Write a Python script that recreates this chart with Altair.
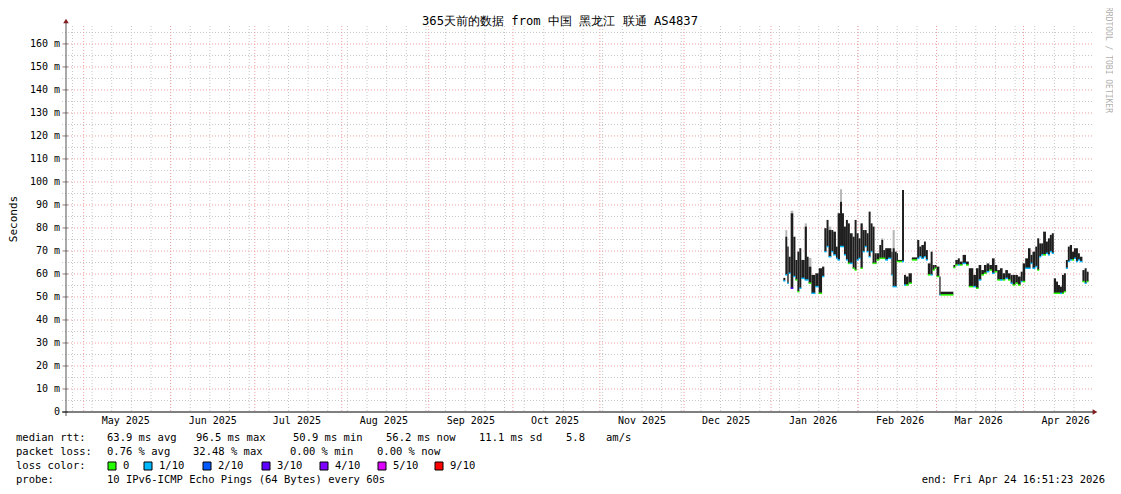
import altair as alt
import pandas as pd

MONO = "DejaVu Sans Mono"
MS_DAY = 86400000

# ---------------- data (days since 2026-01-01 UTC, values in ms) ----------------
seg_start = [4.4, 5.1, 5.8, 6.3, 7.0, 7.95, 8.7, 9.4, 10.1, 10.8,
             12.0, 12.8, 13.4, 14.4, 15.8, 17.0, 18.2, 19.0, 19.8, 20.5,
             21.5, 22.2, 23.15, 23.75, 24.6, 25.3, 26.0, 26.7, 27.4, 28.1,
             29.1, 29.8, 30.5, 31.2, 31.9, 32.7, 33.4, 34.1, 34.8, 35.5,
             36.2, 36.9, 37.6, 38.6, 39.3, 40.0, 40.7, 41.7, 42.9, 43.35,
             44.1, 44.8, 45.25, 46.7, 47.4, 48.1, 49.05, 50.2, 52.1, 52.85,
             53.6, 54.5, 55.2, 55.9, 56.9, 57.6, 58.3, 59.0, 60.0, 60.45,
             65.0, 65.7, 66.6, 67.3, 68.3, 69.5, 70.5, 72.1, 73.05, 74.0,
             74.95, 75.9, 76.85, 77.8, 78.75, 79.7, 80.65, 81.6, 82.55, 83.5,
             84.45, 85.4, 86.1, 87.1, 88.0, 89.0, 89.7, 90.6, 91.6, 92.5,
             93.2, 94.2, 94.9, 95.6, 96.3, 97.0, 98.0, 98.7, 99.4, 100.1,
             100.8, 101.6, 102.3, 103.0, 103.7, 104.4, 105.1, 105.8, 106.5, 107.3,
             108.0, 108.7, 109.4, 110.1, 111.0, 111.8, 112.5]
last_end = 113.2

rtt_hi = [58.3, 76.2, 71.9, 67.5, 86.4, 76.2, 66.1, 69.7, 71.2, 66.1,
          80.6, 67.5, 63.2, 59.6, 60.3, 62.5, 63.2, 79.9, 83.5, 79.1,
          79.1, 78.4, 71.9, 86.4, 91.4, 86.4, 80.6, 83.5, 82.0, 77.7,
          76.2, 83.5, 77.7, 75.5, 82.0, 79.1, 79.1, 77.7, 87.1, 82.0,
          80.6, 69.0, 69.0, 72.6, 74.8, 70.4, 71.2, 71.2, 69.7, 71.2,
          69.7, 69.0, 66.1, 96.5, 59.6, 58.9, 60.3, 67.2, 74.8, 71.9,
          72.6, 74.1, 70.4, 64.6, 69.7, 63.9, 63.9, 63.2, 58.9, 52.3,
          63.9, 66.1, 66.8, 65.4, 68.3, 65.4, 62.5, 59.6, 62.5, 63.9,
          61.7, 63.9, 64.6, 63.9, 66.8, 63.9, 61.7, 62.5, 60.3, 61.7,
          60.3, 59.6, 59.6, 59.6, 58.9, 61.0, 64.6, 66.8, 71.2, 68.3,
          69.7, 71.9, 75.5, 73.3, 73.3, 78.4, 74.1, 75.5, 77.0, 77.7,
          58.1, 56.7, 55.2, 54.5, 59.6, 60.3, 66.1, 71.9, 72.6, 69.7,
          71.2, 71.2, 69.0, 67.5, 61.7, 62.5, 61.0]

rtt_lo = [57.0, 59.6, 56.0, 60.3, 53.8, 58.9, 57.4, 52.3, 53.8, 58.1,
          57.4, 57.4, 56.0, 51.6, 54.5, 51.6, 58.9, 69.7, 71.9, 67.5,
          69.7, 68.3, 66.8, 66.1, 71.9, 71.9, 68.3, 66.1, 64.6, 64.6,
          62.5, 61.7, 66.1, 66.8, 62.5, 69.7, 71.9, 69.7, 67.5, 69.7,
          64.6, 64.6, 66.1, 66.8, 66.8, 66.8, 66.1, 66.8, 59.6, 54.5,
          54.5, 65.4, 65.4, 65.4, 55.2, 55.2, 56.0, 66.1, 66.8, 67.5,
          66.8, 67.5, 66.1, 59.6, 59.6, 61.7, 62.5, 58.9, 50.9, 50.9,
          62.8, 63.9, 63.9, 63.9, 64.6, 63.9, 54.5, 54.5, 53.8, 57.4,
          59.6, 60.3, 61.0, 61.7, 60.3, 61.0, 57.4, 57.4, 57.4, 58.1,
          57.4, 56.0, 55.2, 56.0, 55.2, 56.7, 56.7, 62.5, 62.5, 64.6,
          62.5, 63.2, 61.7, 67.5, 68.3, 68.3, 69.0, 68.3, 69.7, 69.0,
          51.6, 51.6, 51.6, 51.6, 51.6, 52.3, 62.5, 65.4, 66.1, 66.1,
          66.8, 65.4, 66.1, 65.4, 56.7, 56.0, 56.7]

loss_level = [1, 1, 1, 1, 3, 1, 0, 0, 1, 1,
              1, 1, 0, 1, 1, 0, 1, 1, 1, 1,
              1, 1, 1, 1, 1, 1, 1, 1, 0, 1,
              0, 0, 1, 1, 0, 1, 1, 1, 1, 1,
              0, 0, 0, 0, 0, 0, 1, 1, 1, 1,
              1, 0, 0, 1, 1, 0, 0, 0, 1, 1,
              1, 1, 1, 0, 1, 0, 0, 0, 1, 0,
              0, 0, 1, 0, 1, 0, 0, 1, 0, 1,
              0, 0, 1, 0, 1, 0, 0, 1, 0, 1,
              0, 1, 0, 0, 0, 1, 0, 1, 1, 1,
              1, 1, 0, 1, 1, 0, 1, 1, 1, 1,
              0, 0, 0, 1, 0, 0, 1, 1, 1, 0,
              1, 1, 1, 1, 0, 1, 0]

# light-grey smoke caps above the dark band (start day, top value)
smoke_day = [5.1, 7.0, 12.0, 13.4, 20.5, 24.6, 39.3, 43.35]
smoke_top = [79.1, 87.5, 82.0, 67.0, 80.6, 96.8, 75.5, 79.1]

loss_names = ["0", "1/10", "2/10", "3/10", "4/10", "5/10", "9/10"]
loss_levels = [0, 1, 2, 3, 4, 5, 9]
loss_colors = ["#26ff00", "#00b8ff", "#0059ff", "#5e00ff", "#7e00ff", "#dd00ff", "#ff0000"]

month_labels_from = "2025-05-01"
month_labels_to = "2026-04-01"
y_ticks = list(range(0, 170, 10))

title_text = "365天前的数据 from 中国 黑龙江 联通 AS4837"
legend_rtt = [("median rtt:", 16), ("63.9 ms avg", 107), ("96.5 ms max", 196),
              ("50.9 ms min", 293), ("56.2 ms now", 386), ("11.1 ms sd", 479),
              ("5.8", 566), ("am/s", 606)]
legend_loss = [("packet loss:", 16), ("0.76 % avg", 107), ("32.48 % max", 193),
               ("0.00 % min", 290), ("0.00 % now", 377)]
probe_text = "10 IPv6-ICMP Echo Pings (64 Bytes) every 60s"
end_text = "end: Fri Apr 24 16:51:23 2026"

# ---------------- build tables ----------------
BASE = pd.Timestamp("2026-01-01T00:00:00Z").value // 10**6
START = pd.Timestamp("2025-04-24T16:51:23Z").value // 10**6
END = pd.Timestamp("2026-04-24T16:51:23Z").value // 10**6

seg_end = seg_start[1:] + [last_end]
df = pd.DataFrame({
    "s": [BASE + d * MS_DAY for d in seg_start],
    "e": [BASE + d * MS_DAY for d in seg_end],
    "hi": rtt_hi, "lo": rtt_lo, "loss": loss_level,
})
sm = df[df["s"].isin([BASE + d * MS_DAY for d in smoke_day])].copy()
sm["top"] = smoke_top

weeks = pd.date_range("2025-04-27", "2026-04-24", freq="7D", tz="UTC")
months = pd.date_range(month_labels_from, month_labels_to, freq="MS", tz="UTC")
week_df = pd.DataFrame({"t": [w.value // 10**6 for w in weeks]})
month_df = pd.DataFrame({"t": [m.value // 10**6 for m in months]})
mlabel_df = pd.DataFrame({
    "t": [int((m + pd.Timedelta(days=15)).value // 10**6) for m in months],
    "label": [m.strftime("%b %Y") for m in months],
})
ylabel_df = pd.DataFrame({
    "v": y_ticks,
    "label": [("0\u00a0\u00a0" if v == 0 else f"{v}\u00a0m") for v in y_ticks],
})
minor_df = pd.DataFrame({"v": list(range(5, 170, 10))})
major_df = pd.DataFrame({"v": list(range(10, 170, 10))})

W, H = 1024, 386
xscale = alt.Scale(type="utc", domain=[START, END], nice=False)
yscale = alt.Scale(domain=[0, 167.8], nice=False, zero=True)

GRAY = "#c6c6c6"
RED = "#f2a0a0"

hminor = alt.Chart(minor_df).mark_rule(color=GRAY, strokeDash=[1, 2], strokeWidth=1).encode(
    y=alt.Y("v:Q", scale=yscale, axis=None), x=alt.value(-4), x2=alt.value(W + 3))
vminor = alt.Chart(week_df).mark_rule(color=GRAY, strokeDash=[1, 2], strokeWidth=1).encode(
    x=alt.X("t:T", scale=xscale, axis=None), y=alt.value(0), y2=alt.value(H))
hmajor = alt.Chart(major_df).mark_rule(color=RED, strokeDash=[1, 2], strokeWidth=1).encode(
    y=alt.Y("v:Q", scale=yscale, axis=None), x=alt.value(-4), x2=alt.value(W + 3))
vmajor = alt.Chart(month_df).mark_rule(color=RED, strokeDash=[1, 2], strokeWidth=1).encode(
    x=alt.X("t:T", scale=xscale, axis=None), y=alt.value(0), y2=alt.value(H))
yticks = alt.Chart(ylabel_df).mark_rule(color="#888", strokeWidth=1).encode(
    y=alt.Y("v:Q", scale=yscale, axis=None), x=alt.value(-3), x2=alt.value(2))

smoke = alt.Chart(sm).mark_rect(color="#b8b8b8").encode(
    x=alt.X("s:T", scale=xscale, axis=None), x2="e:T",
    y=alt.Y("hi:Q", scale=yscale, axis=None), y2="top:Q")

bars = alt.Chart(df).mark_rect(color="#1e1e1e").encode(
    x=alt.X("s:T", scale=xscale, axis=None), x2="e:T",
    y=alt.Y("lo:Q", scale=yscale, axis=None), y2="hi:Q")

median = alt.Chart(df).mark_rule(strokeWidth=1.5).encode(
    x=alt.X("s:T", scale=xscale, axis=None), x2="e:T",
    y=alt.Y("lo:Q", scale=yscale, axis=None),
    color=alt.Color("loss:O", scale=alt.Scale(domain=loss_levels, range=loss_colors), legend=None))

xlabels = alt.Chart(mlabel_df).mark_text(font=MONO, fontSize=10, baseline="middle", align="center",
                                         color="#000").encode(
    x=alt.X("t:T", scale=xscale, axis=None), y=alt.value(H + 9), text="label:N")
ylabels = alt.Chart(ylabel_df).mark_text(font=MONO, fontSize=10, baseline="middle", align="right",
                                         color="#000").encode(
    y=alt.Y("v:Q", scale=yscale, axis=None), x=alt.value(-6), text="label:N")

one = alt.Data(values=[{"k": 1}])
OX, OY = 66, 26  # plot origin in page coordinates


def txt(s, x, y, size=10.5, align="left", angle=0, color="#000", font=MONO):
    return alt.Chart(one).mark_text(font=font, fontSize=size, align=align, baseline="middle",
                                    angle=angle, color=color).encode(
        x=alt.value(x - OX), y=alt.value(y - OY), text=alt.value(s))


deco = []
# axis lines and arrows
deco.append(alt.Chart(one).mark_rule(color="#555", strokeWidth=1).encode(
    x=alt.value(0), y=alt.value(-4), y2=alt.value(H + 4)))
deco.append(alt.Chart(one).mark_rule(color="#000", strokeWidth=1).encode(
    x=alt.value(-4), x2=alt.value(W + 3), y=alt.value(H)))
deco.append(alt.Chart(one).mark_point(shape="triangle-up", filled=True, color="#7f1f1f", size=30, opacity=1).encode(
    x=alt.value(0), y=alt.value(-5)))
deco.append(alt.Chart(one).mark_point(shape="triangle-right", filled=True, color="#7f1f1f", size=30, opacity=1).encode(
    x=alt.value(W + 5), y=alt.value(H)))

deco.append(txt(title_text, 560, 21, size=12.2, align="center"))
deco.append(txt("Seconds", 14, 219, size=11, align="center", angle=270))
deco.append(txt("RRDTOOL / TOBI OETIKER", 1108, 60, size=8, align="center", angle=90, color="#b0b0b0"))

for s, x in legend_rtt:
    deco.append(txt(s, x, 438))
for s, x in legend_loss:
    deco.append(txt(s, x, 452))
deco.append(txt("loss color:", 16, 466))
box_x = [108, 144, 203, 262, 320, 378, 435]
for name, col, bx in zip(loss_names, loss_colors, box_x):
    deco.append(alt.Chart(one).mark_square(size=64, fill=col, stroke="#000", strokeWidth=1, opacity=1).encode(
        x=alt.value(bx + 4 - OX), y=alt.value(466 - OY)))
    deco.append(txt(name, bx + 15, 466))
deco.append(txt("probe:", 16, 480))
deco.append(txt(probe_text, 107, 480))
deco.append(txt(end_text, 1105, 480, align="right"))

chart = alt.layer(hminor, vminor, hmajor, vmajor, yticks, smoke, bars, median, xlabels, ylabels,
                  *deco).properties(
    width=W, height=H,
    padding={"left": OX - 8, "top": OY - 8, "right": 1121 - 16 - (OX - 8) - W, "bottom": 76},
    autosize=alt.AutoSizeParams(type="none"),
    background="#ffffff",
).configure_view(stroke=None)

chart.save("out.html", embed_options={"renderer": "svg", "actions": False})
